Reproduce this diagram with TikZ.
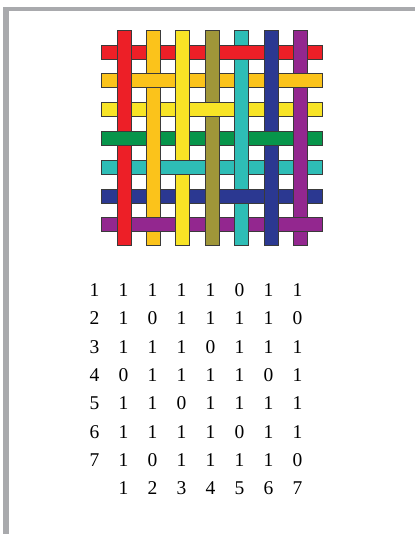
\documentclass[tikz,border=0pt]{standalone}
\usepackage{fontspec}
\setmainfont{Liberation Serif}
\usepackage{xcolor}
\usetikzlibrary{positioning}
\definecolor{framegray}{HTML}{A9AAAD}
\definecolor{wred}{HTML}{ED1F27}
\definecolor{worange}{HTML}{FBC31B}
\definecolor{wyellow}{HTML}{F8E426}
\definecolor{wolive}{HTML}{9F9639}
\definecolor{wgreen}{HTML}{07954B}
\definecolor{wteal}{HTML}{2EBDB6}
\definecolor{wblue}{HTML}{2B3891}
\definecolor{wpurple}{HTML}{93278F}
\definecolor{edge}{HTML}{3A3A3A}

\begin{document}
\begin{tikzpicture}[x=1pt, y=-1pt,
  strand/.style={draw=edge, line width=0.9pt},
  num/.style={font=\fontsize{19.5}{21}\selectfont, inner sep=0pt, anchor=center}]
\useasboundingbox (0,0) rectangle (415,534);
% frame
\fill[framegray] (3,7) rectangle (9,534);
\fill[framegray] (3,7) rectangle (415,11.5);
% weft strands
\foreach \j/\col [evaluate=\j as \y using 52+28.8*(\j-1)] in
  {1/wred,2/worange,3/wyellow,4/wgreen,5/wteal,6/wblue,7/wpurple}
  \draw[strand, fill=\col] (101.7,\y-7) rectangle (322.3,\y+7);
% warp strands
\foreach \i/\col [evaluate=\i as \x using 124+29.4*(\i-1)] in
  {1/wred,2/worange,3/wyellow,4/wolive,5/wteal,6/wblue,7/wpurple}
  \draw[strand, fill=\col] (\x-7,30) rectangle (\x+7,245);
% weft over warp (the zeros)
\foreach \i/\j/\col in {5/1/wred,2/2/worange,7/2/worange,4/3/wyellow,1/4/wgreen,
  6/4/wgreen,3/5/wteal,5/6/wblue,2/7/wpurple,7/7/wpurple}{
  \pgfmathsetmacro\x{124+29.4*(\i-1)}
  \pgfmathsetmacro\y{52+28.8*(\j-1)}
  \fill[\col] (\x-7.6,\y-7) rectangle (\x+7.6,\y+7);
  \draw[strand] (\x-7.6,\y-7) -- ++(15.2,0) (\x-7.6,\y+7) -- ++(15.2,0);
}
% matrix
\foreach \r/\vals [evaluate=\r as \y using 290+28.33*(\r-1)] in
  {1/{1,1,1,1,0,1,1},2/{1,0,1,1,1,1,0},3/{1,1,1,0,1,1,1},4/{0,1,1,1,1,0,1},
   5/{1,1,0,1,1,1,1},6/{1,1,1,1,0,1,1},7/{1,0,1,1,1,1,0}}{
  \node[num] (r\r) at (94.5,\y) {\r};
  \foreach \v [count=\c] in \vals
    \node[num] (c\r-\c) at (94.5+29*\c,\y) {\v};
}
\foreach \c in {1,...,7}
  \node[num] (b\c) at (94.5+29*\c,488.3) {\c};
\end{tikzpicture}
\end{document}
